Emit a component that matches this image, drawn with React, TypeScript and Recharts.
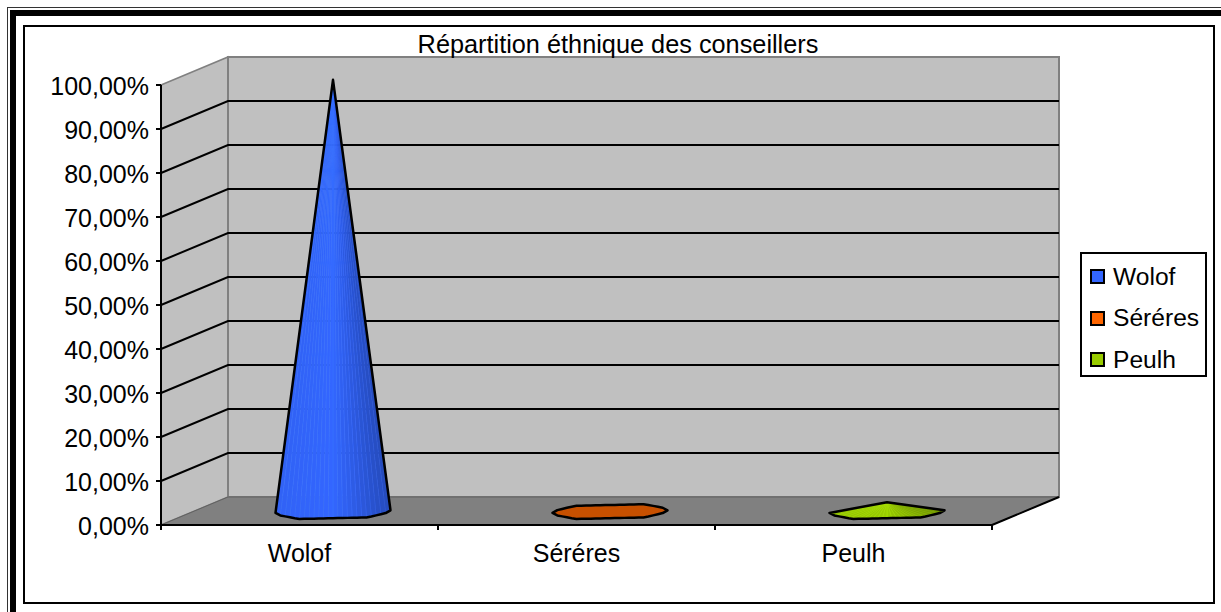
import { Bar, ComposedChart, Legend, ReferenceArea, ReferenceLine, XAxis, YAxis } from 'recharts';

const FONT = '"Liberation Sans", Arial, sans-serif';

const categories = ['Wolof', 'Séréres', 'Peulh'];
const shares = [98, 0, 2];
const colors = ['#3366ff', '#ff6600', '#99cc00'];
const yTicks = [0, 10, 20, 30, 40, 50, 60, 70, 80, 90, 100];

const data = categories.map((name, i) => ({ name, share: shares[i] }));

// depth of the fake 3D box
const DX = 67;
const DY = -28;

const shade = (hex: string, k: number) => {
  const n = parseInt(hex.slice(1), 16);
  const c = [n >> 16, (n >> 8) & 255, n & 255].map((v) => Math.min(255, Math.round(v * k)));
  return `rgb(${c[0]},${c[1]},${c[2]})`;
};

const Box = ({ x, y, width, height }: any) => {
  const left = x;
  const right = x + width;
  const top = y;
  const bottom = y + height;
  const p = (pts: number[][]) => pts.map((a) => a.join(',')).join(' ');
  return (
    <g>
      <polygon
        points={p([[left, top], [left + DX, top + DY], [left + DX, bottom + DY], [left, bottom]])}
        fill="#c0c0c0"
        stroke="#808080"
        strokeWidth={1.5}
      />
      <polygon
        points={p([[left + DX, top + DY], [right + DX, top + DY], [right + DX, bottom + DY], [left + DX, bottom + DY]])}
        fill="#c0c0c0"
        stroke="#808080"
        strokeWidth={2}
      />
      <polygon
        points={p([[left, bottom], [left + DX, bottom + DY], [right + DX, bottom + DY], [right, bottom]])}
        fill="#808080"
        stroke="#606060"
        strokeWidth={1}
      />
      <line x1={right} y1={bottom} x2={right + DX} y2={bottom + DY} stroke="#000" strokeWidth={2} />
    </g>
  );
};

const GridLine = ({ x1, y1, x2 }: any) => (
  <polyline
    points={`${x1},${y1} ${x1 + DX},${y1 + DY} ${x2 + DX},${y1 + DY}`}
    fill="none"
    stroke="#000"
    strokeWidth={2}
  />
);

// half height of the cone's base at c (-1 left tip .. 1 right tip)
const baseProfile = (c: number) => {
  const a = Math.abs(c);
  if (a <= 0.6) return 1;
  if (a <= 0.92) return 1 - ((a - 0.6) / 0.32) * 0.6;
  return 0.4 * Math.sqrt((1 - a) / 0.08);
};

const Cone = ({ x, y, width, height, index }: any) => {
  const color = colors[index];
  const cx = x + width / 2 + DX / 2;
  const cy = y + height + DY / 2 + 0.6;
  const apex = y + DY / 2;
  const rx = width / 2;
  const ry = 6.6;
  const steps = 24;
  const cs = Array.from({ length: steps + 1 }, (_, i) => 1 - (2 * i) / steps);
  const at = (c: number, side: number): [number, number] => [
    cx + rx * c,
    cy + side * ry * baseProfile(c) - 1.3 * c,
  ];
  const front = cs.map((c) => at(c, 1));

  if (cy - apex < ry) {
    // no real height: only the base disc is visible
    const disc = [...front, ...cs.map((c) => at(-c, -1))];
    return (
      <polygon
        points={disc.map((q) => q.join(',')).join(' ')}
        fill={shade(color, 0.78)}
        stroke="#000"
        strokeWidth={2.5}
        strokeLinejoin="round"
      />
    );
  }

  return (
    <g>
      {front.slice(0, -1).map((q, i) => {
        const u = (cs[i] + cs[i + 1]) / 2;
        const k = u > 0 ? 1 - 0.27 * u : 1 + 0.04 * u;
        return (
          <polygon
            key={i}
            points={`${cx},${apex} ${q.join(',')} ${front[i + 1].join(',')}`}
            fill={shade(color, k)}
            stroke={shade(color, k * 1.12)}
            strokeWidth={0.6}
          />
        );
      })}
      <polygon
        points={`${cx},${apex} ${front.map((q) => q.join(',')).join(' ')}`}
        fill="none"
        stroke="#000"
        strokeWidth={2.5}
        strokeLinejoin="round"
      />
    </g>
  );
};

const CategoryTick = ({ x, y, payload, index }: any) => {
  const band = 277;
  return (
    <g>
      <line x1={x - band / 2} y1={y} x2={x - band / 2} y2={y + 5} stroke="#000" strokeWidth={2} />
      {index === categories.length - 1 && (
        <line x1={x + band / 2} y1={y} x2={x + band / 2} y2={y + 5} stroke="#000" strokeWidth={2} />
      )}
      <text x={x} y={y + 36.5} textAnchor="middle" fontFamily={FONT} fontSize={25} fill="#000">
        {payload.value}
      </text>
    </g>
  );
};

const LegendBox = () => (
  <div
    style={{
      boxSizing: 'border-box',
      width: 127,
      height: 125,
      border: '2px solid #000',
      background: '#fff',
      fontFamily: FONT,
      fontSize: 24.6,
      color: '#000',
      paddingTop: 2,
    }}
  >
    {categories.map((name, i) => (
      <div key={name} style={{ display: 'flex', alignItems: 'center', height: 41.5, paddingLeft: 8 }}>
        <span
          style={{
            boxSizing: 'border-box',
            display: 'inline-block',
            width: 15,
            height: 15,
            border: '2px solid #000',
            background: colors[i],
            marginRight: 8,
          }}
        />
        {name}
      </div>
    ))}
  </div>
);

export default function App() {
  return (
    <div style={{ position: 'absolute', left: 0, top: 0, width: 1221, height: 612, background: '#fff', overflow: 'hidden' }}>
      {/* sheet frame: only top and left of the outer double rule are visible */}
      <div style={{ position: 'absolute', left: 7, top: 7, right: 0, height: 1, background: '#333' }} />
      <div style={{ position: 'absolute', left: 7, top: 7, bottom: 0, width: 1, background: '#333' }} />
      <div style={{ position: 'absolute', left: 10, top: 10, right: 0, height: 6, background: '#000' }} />
      <div style={{ position: 'absolute', left: 10, top: 10, bottom: 0, width: 6, background: '#000' }} />
      <div
        style={{
          position: 'absolute',
          left: 23,
          top: 25,
          width: 1192,
          height: 579,
          boxSizing: 'border-box',
          border: '2px solid #000',
          background: '#fff',
        }}
      />
      <div style={{ position: 'absolute', left: 0, top: 0 }}>
        <ComposedChart
          width={1221}
          height={612}
          data={data}
          margin={{ top: 85, right: 229, bottom: 0, left: 0 }}
          style={{ fontFamily: FONT }}
        >
          <ReferenceArea y1={0} y2={100} shape={<Box />} ifOverflow="visible" zIndex={-200} />
          {yTicks.slice(1, -1).map((t) => (
            <ReferenceLine key={t} y={t} shape={<GridLine />} ifOverflow="visible" zIndex={-100} />
          ))}
          <XAxis
            dataKey="name"
            height={87}
            axisLine={{ stroke: '#000', strokeWidth: 2 }}
            tickLine={false}
            tickSize={0}
            tickMargin={0}
            tick={<CategoryTick />}
            interval={0}
          />
          <YAxis
            width={161}
            domain={[0, 100]}
            ticks={yTicks}
            interval={0}
            axisLine={{ stroke: '#000', strokeWidth: 2 }}
            tickLine={{ stroke: '#000', strokeWidth: 2 }}
            tickSize={5}
            tickMargin={7}
            tick={{ fill: '#000', fontSize: 25, fontFamily: FONT, dy: 1 }}
            tickFormatter={(v: number) => `${v.toFixed(2).replace('.', ',')}%`}
          />
          <Bar dataKey="share" barSize={115} shape={<Cone />} isAnimationActive={false} />
          <text x={618} y={53} textAnchor="middle" fontFamily={FONT} fontSize={25.3} fill="#000">
            Répartition éthnique des conseillers
          </text>
          <Legend
            layout="horizontal"
            align="center"
            verticalAlign="middle"
            content={<LegendBox />}
            wrapperStyle={{ left: 1080, top: 252, width: 127, height: 125 }}
          />
        </ComposedChart>
      </div>
    </div>
  );
}
